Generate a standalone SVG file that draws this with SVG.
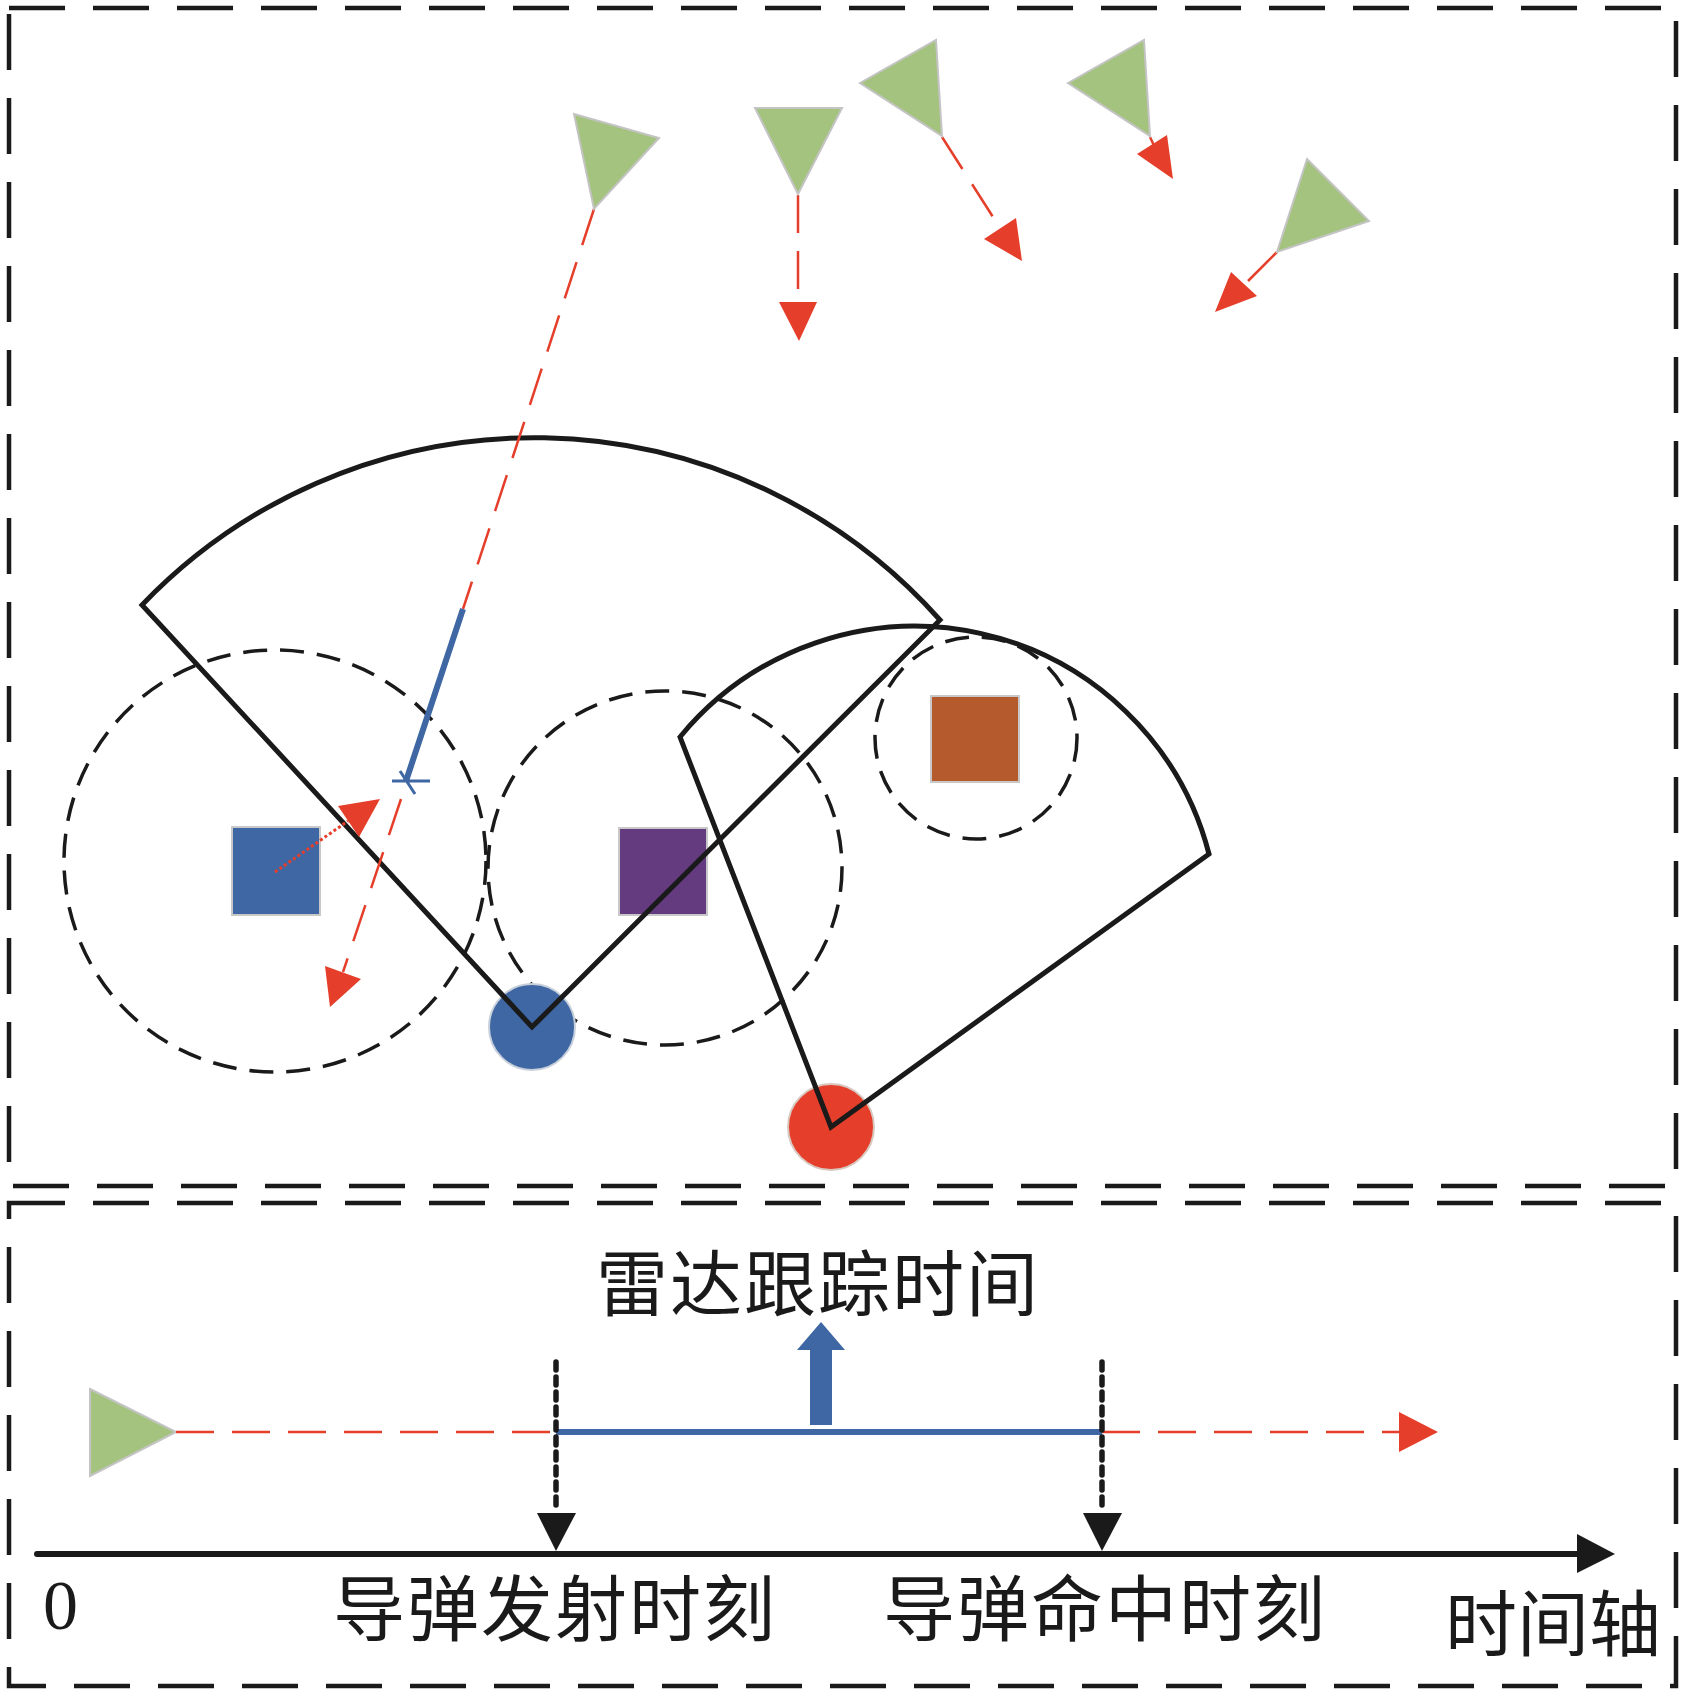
<svg xmlns="http://www.w3.org/2000/svg" width="1684" height="1697" viewBox="0 0 1684 1697">
<style>
.frame{fill:none;stroke:#1a1a1a;stroke-width:4.5;stroke-dasharray:56 28}
.fan{fill:none;stroke:#1a1a1a;stroke-width:5;stroke-linejoin:miter}
.dcirc{fill:none;stroke:#1a1a1a;stroke-width:3.5;stroke-dasharray:24 13}
.tri{fill:#A4C37E;stroke:#c4c4c4;stroke-width:2}
.rline{fill:none;stroke:#E53E2A;stroke-width:2.5;stroke-dasharray:38 18}
.rdot{fill:none;stroke:#E53E2A;stroke-width:3;stroke-dasharray:3 2.5}
.rhead{fill:#E53E2A}
.bline{stroke:#3E67A3;fill:none}
.vdot{fill:none;stroke:#1a1a1a;stroke-width:5.5;stroke-dasharray:8 7;stroke-linecap:round}
.khead{fill:#1a1a1a}
.lbl{font-family:"Noto Sans CJK SC","Noto Sans CJK TC",sans-serif;font-size:72px;fill:#1a1a1a;text-anchor:middle}
.sq{stroke:#c8c8c8;stroke-width:2}
</style>
<g id="frames">
<rect class="frame" x="9" y="8" width="1667" height="1178"/>
<rect class="frame" x="9" y="1203" width="1667" height="483"/>
</g>
<g id="dashed-circles">
<circle class="dcirc" cx="275" cy="861" r="211"/>
<circle class="dcirc" cx="665" cy="868" r="177"/>
<circle class="dcirc" cx="976" cy="738" r="101"/>
</g>
<g id="targets">
<rect id="blue-square" class="sq" x="232" y="827" width="88" height="88" fill="#3E67A3"/>
<rect id="purple-square" class="sq" x="619" y="828" width="88" height="87" fill="#643B7F"/>
<rect id="orange-square" class="sq" x="931" y="696" width="88" height="86" fill="#B55A2D"/>
</g>
<g id="radars">
<circle id="blue-radar" cx="532" cy="1027" r="43" fill="#3E67A3" stroke="#c8d0dc" stroke-width="2"/>
<circle id="red-radar" cx="831" cy="1127" r="43" fill="#E53E2A" stroke="#d8c8c0" stroke-width="2"/>
</g>
<g id="fans">
<path id="fan1" class="fan" d="M532,1027 L142,605 A543,543 0 0 1 940,620 Z"/>
<path id="fan2" class="fan" d="M831,1127 L680,737 A304,304 0 0 1 1209,854 Z"/>
</g>
<g id="connectors">
<path class="rline" d="M594,209 L463,609"/>
<path class="bline" stroke-width="6" d="M463,609 L406,781"/>
<path class="bline" stroke-width="3" d="M392,781 L430,781 M400,771 L415,794"/>
<path class="rline" d="M401,799 L343,972"/>
<polygon class="rhead" points="325,966 361,979 330,1007"/>
<path class="rdot" d="M275,872 L348,821"/>
<polygon class="rhead" points="338,806 359,837 380,799"/>
<path class="rline" d="M798,195 L798,298"/>
<polygon class="rhead" points="779,302 817,302 799,341"/>
<path class="rline" d="M942,137 L1000,228"/>
<polygon class="rhead" points="984,239 1016,218 1022,261"/>
<path class="rline" d="M1150,137 L1157,152" style="stroke-dasharray:none"/>
<polygon class="rhead" points="1137,154 1167,135 1173,179"/>
<path class="rline" d="M1277,252 L1248,281" style="stroke-dasharray:none"/>
<polygon class="rhead" points="1231,272 1257,296 1215,312"/>
</g>
<g id="aircraft">
<polygon id="t1" class="tri" points="574,114 659,138 594,209"/>
<polygon id="t2" class="tri" points="755,108 842,108 798,194"/>
<polygon id="t3" class="tri" points="860,83 936,40 942,136"/>
<polygon id="t4" class="tri" points="1068,83 1144,40 1150,136"/>
<polygon id="t5" class="tri" points="1307,159 1369,221 1277,252"/>
</g>
<g id="timeline">
<polygon id="t-bottom" class="tri" points="90,1389 176,1432 90,1476"/>
<path class="rline" d="M176,1432 L556,1432"/>
<path class="bline" stroke-width="6" d="M556,1432 L1102,1432"/>
<path class="rline" d="M1102,1432 L1400,1432"/>
<polygon class="rhead" points="1399,1412 1399,1452 1438,1432"/>
<path class="vdot" d="M556,1362 L556,1512"/>
<polygon class="khead" points="537,1513 576,1513 556,1551"/>
<path class="vdot" d="M1102,1362 L1102,1512"/>
<polygon class="khead" points="1083,1513 1122,1513 1102,1551"/>
<path d="M37,1554 L1580,1554" stroke="#1a1a1a" stroke-width="6" stroke-linecap="round"/>
<polygon class="khead" points="1577,1534 1577,1573 1615,1554"/>
<polygon id="up-arrow" fill="#3E67A3" points="810,1425 832,1425 832,1350 845,1350 821,1322 797,1350 810,1350"/>
</g>
<g id="labels">
<text class="lbl" x="818" y="1310" letter-spacing="2">雷达跟踪时间</text>
<text class="lbl" x="555" y="1635" letter-spacing="2">导弹发射时刻</text>
<text class="lbl" x="1105" y="1635" letter-spacing="2">导弹命中时刻</text>
<text class="lbl" x="1553" y="1650">时间轴</text>
<text x="43" y="1629" font-family="Liberation Serif, serif" font-size="70" fill="#1a1a1a">0</text>
</g>
</svg>
